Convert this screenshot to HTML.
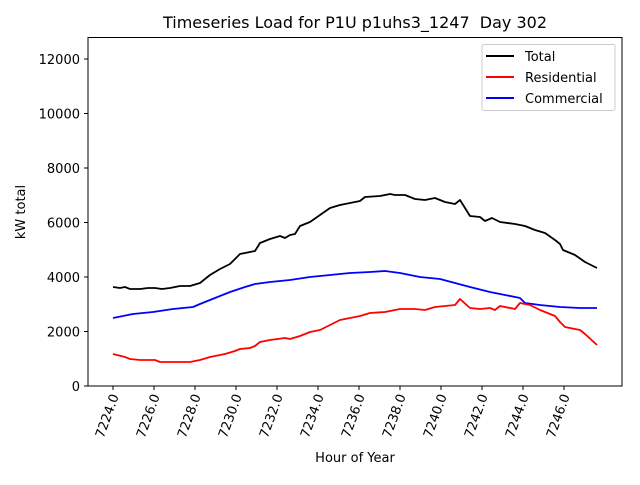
<!DOCTYPE html>
<html><head><meta charset="utf-8"><style>
body{margin:0;background:#fff;}
svg text{font-family:"DejaVu Sans","Liberation Sans",sans-serif;fill:#000;}
</style></head><body>
<svg width="640" height="480" viewBox="0 0 640 480" xmlns="http://www.w3.org/2000/svg">
<rect width="640" height="480" fill="#fff"/>
<text x="355" y="28" font-size="16" text-anchor="middle">Timeseries Load for P1U p1uhs3_1247 &#160;Day 302</text>
<g fill="none" stroke-width="1.8" stroke-linejoin="round">
<polyline stroke="#0000ff" points="113,318 133,314 153,312 173,309 193,307 200,304 215,298 230,292 245,287 255,284 270,282 290,280 310,277 330,275 350,273 370,272 385,271 400,273 420,277 440,279 455,283 470,287 490,292 505,295 520,298 525,303 540,305 560,307 580,308 597,308"/>
<polyline stroke="#000" points="113,287 120,288 125,287 130,289 140,289 148,288 155,288 162,289 170,288 180,286 190,286 200,283 210,275 220,269 230,264 240,254 250,252 255,251 260,243 270,239 280,236 285,238 290,235 295,234 300,226 310,222 320,215 330,208 340,205 350,203 360,201 365,197 380,196 390,194 395,195 405,195 415,199 425,200 435,198 445,202 455,204 460,200 470,216 480,217 485,221 492,218 500,222 515,224 525,226 535,230 545,233 555,240 560,244 563,250 575,255 585,262 597,268"/>
<polyline stroke="#ff0000" points="113,354 125,357 130,359 140,360 155,360 160,362 175,362 190,362 200,360 210,357 225,354 235,351 240,349 250,348 255,346 260,342 270,340 285,338 290,339 300,336 310,332 320,330 330,325 340,320 350,318 360,316 370,313 385,312 400,309 415,309 425,310 435,307 445,306 455,305 460,299 470,308 480,309 490,308 495,310 500,306 515,309 520,303 530,305 540,310 555,316 560,322 565,327 580,330 585,334 597,345"/>
</g>
<rect x="88" y="37.5" width="534" height="348.5" fill="none" stroke="#000" stroke-width="1"/>
<g stroke="#000" stroke-width="1">
<line x1="84" y1="386" x2="88" y2="386"/><line x1="84" y1="331.5" x2="88" y2="331.5"/><line x1="84" y1="277" x2="88" y2="277"/><line x1="84" y1="222.5" x2="88" y2="222.5"/><line x1="84" y1="168" x2="88" y2="168"/><line x1="84" y1="113.5" x2="88" y2="113.5"/><line x1="84" y1="59" x2="88" y2="59"/>
</g>
<g font-size="13" text-anchor="end">
<text x="80" y="391">0</text><text x="80" y="336.5">2000</text><text x="80" y="282">4000</text><text x="80" y="227.5">6000</text><text x="80" y="173">8000</text><text x="80" y="118.5">10000</text><text x="80" y="64">12000</text>
</g>
<text transform="translate(25,212) rotate(-90)" font-size="13" text-anchor="middle">kW total</text>
<g stroke="#000" stroke-width="1">
<line x1="113" y1="386" x2="113" y2="390"/><line x1="154" y1="386" x2="154" y2="390"/><line x1="195" y1="386" x2="195" y2="390"/><line x1="236" y1="386" x2="236" y2="390"/><line x1="277" y1="386" x2="277" y2="390"/><line x1="318" y1="386" x2="318" y2="390"/><line x1="359" y1="386" x2="359" y2="390"/><line x1="400" y1="386" x2="400" y2="390"/><line x1="441" y1="386" x2="441" y2="390"/><line x1="482" y1="386" x2="482" y2="390"/><line x1="523" y1="386" x2="523" y2="390"/><line x1="564" y1="386" x2="564" y2="390"/>
</g>
<g font-size="13" text-anchor="end">
<text transform="translate(119,396) rotate(-70)">7224.0</text>
<text transform="translate(160,396) rotate(-70)">7226.0</text>
<text transform="translate(201,396) rotate(-70)">7228.0</text>
<text transform="translate(242,396) rotate(-70)">7230.0</text>
<text transform="translate(283,396) rotate(-70)">7232.0</text>
<text transform="translate(324,396) rotate(-70)">7234.0</text>
<text transform="translate(365,396) rotate(-70)">7236.0</text>
<text transform="translate(406,396) rotate(-70)">7238.0</text>
<text transform="translate(447,396) rotate(-70)">7240.0</text>
<text transform="translate(488,396) rotate(-70)">7242.0</text>
<text transform="translate(529,396) rotate(-70)">7244.0</text>
<text transform="translate(570,396) rotate(-70)">7246.0</text>
</g>
<text x="355" y="462" font-size="13" text-anchor="middle">Hour of Year</text>
<rect x="482" y="44.5" width="133" height="66" rx="2" fill="#fff" stroke="#ccc" stroke-width="1"/>
<g stroke-width="2">
<line x1="486" y1="56" x2="514" y2="56" stroke="#000"/>
<line x1="486" y1="77" x2="514" y2="77" stroke="#ff0000"/>
<line x1="486" y1="98" x2="514" y2="98" stroke="#0000ff"/>
</g>
<g font-size="13">
<text x="525" y="61">Total</text><text x="525" y="82">Residential</text><text x="525" y="103">Commercial</text>
</g>
</svg>
</body></html>
